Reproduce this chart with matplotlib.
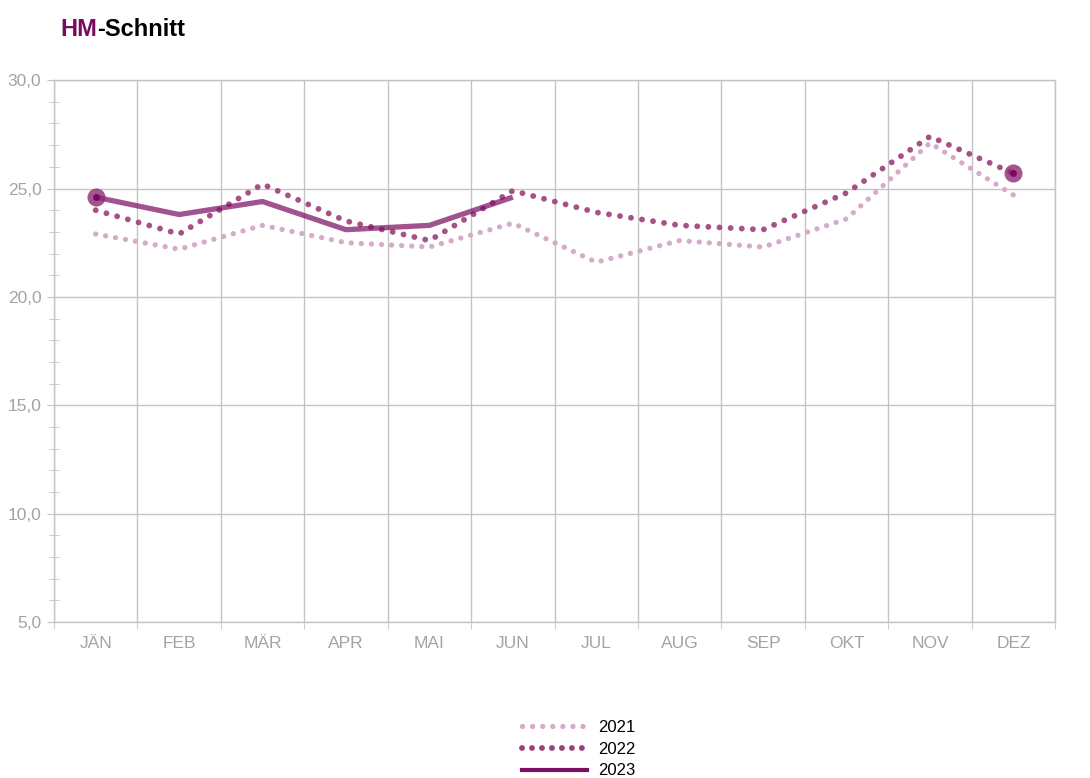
import numpy as np
import matplotlib.pyplot as plt
from matplotlib.lines import Line2D
from matplotlib.ticker import MultipleLocator, FuncFormatter

plt.rcParams['font.family'] = ['Liberation Sans', 'DejaVu Sans']

# Monate und Werte (HM-Schnitt)
monate = ["JÄN", "FEB", "MÄR", "APR", "MAI", "JUN",
          "JUL", "AUG", "SEP", "OKT", "NOV", "DEZ"]
werte_2021 = [22.9, 22.2, 23.3, 22.5, 22.3, 23.4, 21.6, 22.6, 22.3, 23.6, 27.1, 24.7]
werte_2022 = [24.0, 22.9, 25.2, 23.5, 22.6, 24.9, 23.9, 23.3, 23.1, 24.8, 27.4, 25.7]
werte_2023 = [24.6, 23.8, 24.4, 23.1, 23.3, 24.6]

FARBE_2021 = '#d6aac8'
FARBE_2022 = '#9c3f7c'
FARBE_2023 = '#7b1063'
GRAU = '#a3a3a3'
GRID = '#c4c4c4'

fig = plt.figure(figsize=(10.9, 7.78), dpi=100)
ax = fig.add_axes([0.0495, 0.2005, 0.9185, 0.6965])

x21 = np.arange(len(werte_2021))
x22 = np.arange(len(werte_2022))
x23 = np.arange(len(werte_2023))

ax.plot(x21, werte_2021, color=FARBE_2021, lw=3.8, linestyle=(0, (0.01, 1.9)),
        dash_capstyle='round', zorder=3)
ax.plot(x22, werte_2022, color=FARBE_2022, lw=4.2, linestyle=(0, (0.01, 1.9)),
        dash_capstyle='round', alpha=0.9, zorder=4)
ax.plot(x23, werte_2023, color=FARBE_2023, lw=3.8, alpha=0.72,
        solid_capstyle='butt', zorder=5)

# hervorgehobene Punkte
ax.plot(x23[0], werte_2023[0], 'o', ms=13, color='#8e2a73', alpha=0.8, mec='none', zorder=6)
ax.plot(x23[0], werte_2023[0], 'o', ms=5, color='#7b0a5e', mec='none', zorder=7)
ax.plot(x22[-1], werte_2022[-1], 'o', ms=13, color='#8e2a73', alpha=0.8, mec='none', zorder=6)
ax.plot(x22[-1], werte_2022[-1], 'o', ms=5, color='#7b0a5e', mec='none', zorder=7)

ax.set_xlim(-0.5, 11.5)
ax.set_ylim(5, 30)

# y-Achse
ax.yaxis.set_major_locator(MultipleLocator(5))
ax.yaxis.set_minor_locator(MultipleLocator(1))
ax.yaxis.set_major_formatter(FuncFormatter(lambda v, p: f"{v:.1f}".replace('.', ',')))
ax.tick_params(axis='y', which='major', length=5, color=GRID, labelcolor=GRAU,
               labelsize=12.5, pad=4)
ax.tick_params(axis='y', which='minor', length=7, direction='inout', color=GRID)
ax.grid(axis='y', which='major', color=GRID, lw=1)

# x-Achse: Gitter an den Kategoriegrenzen
ax.set_xticks(np.arange(12))
ax.set_xticklabels(monate)
ax.tick_params(axis='x', which='major', length=0, labelcolor=GRAU, labelsize=12.5, pad=10)
ax.set_xticks(np.arange(-0.5, 12, 1), minor=True)
ax.tick_params(axis='x', which='minor', length=5, color=GRID)
ax.grid(axis='x', which='minor', color=GRID, lw=1)

for side in ['top', 'right', 'bottom', 'left']:
    ax.spines[side].set_color(GRID)
    ax.spines[side].set_linewidth(1)

# Titel
t1 = fig.text(0.055, 0.962, "HM", color='#7b0a5e', fontsize=17, fontweight='bold',
              va='center', ha='left')
fig.canvas.draw()
ax.annotate("-Schnitt", xy=(1, 0), xycoords=t1, va='bottom', ha='left',
            fontsize=17, fontweight='bold', color='black', annotation_clip=False)

# Legende
handles = [
    Line2D([], [], color=FARBE_2021, lw=3.8, linestyle=(0, (0.01, 1.9)), dash_capstyle='round'),
    Line2D([], [], color=FARBE_2022, lw=4.2, linestyle=(0, (0.01, 1.7)), dash_capstyle='round'),
    Line2D([], [], color=FARBE_2023, lw=3.0),
]
fig.legend(handles, ["2021", "2022", "2023"], loc='center', bbox_to_anchor=(0.531, 0.037),
           frameon=False, fontsize=12, handlelength=3.9, labelspacing=0.4,
           handletextpad=0.7, borderpad=0)

fig.savefig("out.png", dpi=100)
